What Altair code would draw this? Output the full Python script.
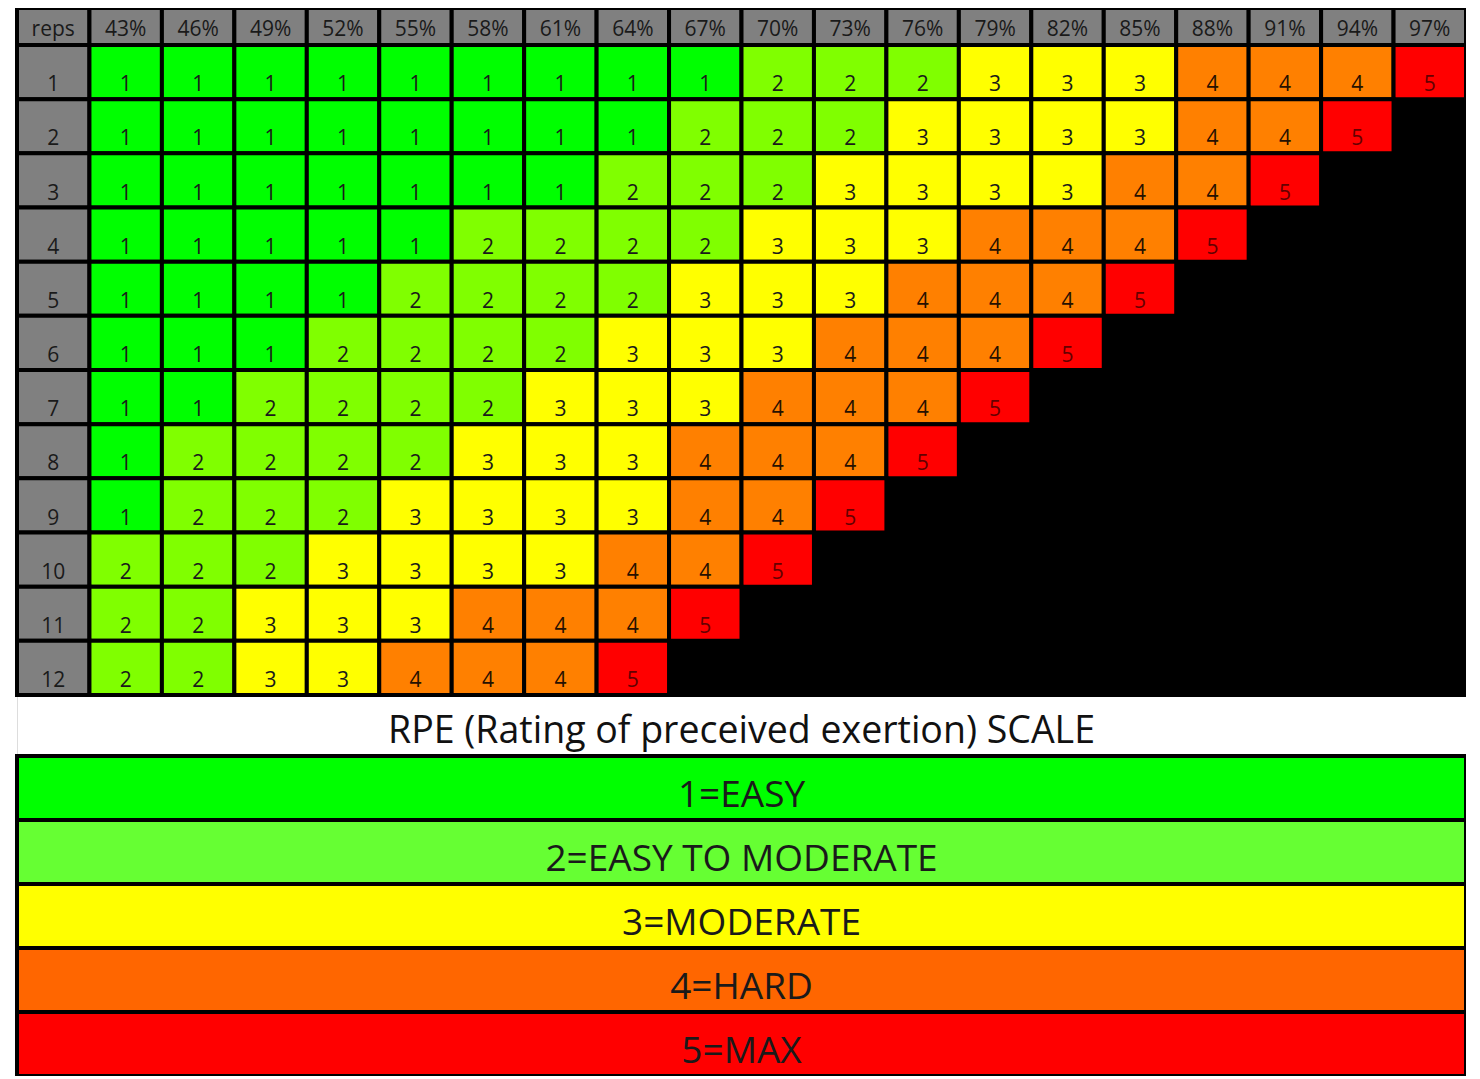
import altair as alt
import pandas as pd

# ---- data -------------------------------------------------------------
percents = ["43%", "46%", "49%", "52%", "55%", "58%", "61%", "64%", "67%", "70%",
            "73%", "76%", "79%", "82%", "85%", "88%", "91%", "94%", "97%"]
reps = [1, 2, 3, 4, 5, 6, 7, 8, 9, 10, 11, 12]
rpe_rows = [
    [1, 1, 1, 1, 1, 1, 1, 1, 1, 2, 2, 2, 3, 3, 3, 4, 4, 4, 5],
    [1, 1, 1, 1, 1, 1, 1, 1, 2, 2, 2, 3, 3, 3, 3, 4, 4, 5],
    [1, 1, 1, 1, 1, 1, 1, 2, 2, 2, 3, 3, 3, 3, 4, 4, 5],
    [1, 1, 1, 1, 1, 2, 2, 2, 2, 3, 3, 3, 4, 4, 4, 5],
    [1, 1, 1, 1, 2, 2, 2, 2, 3, 3, 3, 4, 4, 4, 5],
    [1, 1, 1, 2, 2, 2, 2, 3, 3, 3, 4, 4, 4, 5],
    [1, 1, 2, 2, 2, 2, 3, 3, 3, 4, 4, 4, 5],
    [1, 2, 2, 2, 2, 3, 3, 3, 4, 4, 4, 5],
    [1, 2, 2, 2, 3, 3, 3, 3, 4, 4, 5],
    [2, 2, 2, 3, 3, 3, 3, 4, 4, 5],
    [2, 2, 3, 3, 3, 4, 4, 4, 5],
    [2, 2, 3, 3, 4, 4, 4, 5],
]
corner_label = "reps"
scale_title = "RPE (Rating of preceived exertion) SCALE"
scale_labels = ["1=EASY", "2=EASY TO MODERATE", "3=MODERATE", "4=HARD", "5=MAX"]

# ---- styles -----------------------------------------------------------
cell_colors = {1: "#00FF00", 2: "#80FF00", 3: "#FFFF00", 4: "#FF8000", 5: "#FF0000"}
scale_colors = ["#00FF00", "#66FF33", "#FFFF00", "#FF6600", "#FF0000"]
text_colors = {1: "#1a1a1a", 2: "#1a1a1a", 3: "#1a1a1a", 4: "#261000", 5: "#640000"}
HEADER_GRAY = "#808080"
FONT = "Open Sans"

# layout in reference pixel units (y), column units (x)
TOP, HDR_BOTTOM, ROW_H = 4, 41, 54.17
TABLE_BOTTOM = HDR_BOTTOM + ROW_H * len(reps)
LEG_TOP, LEG_BOTTOM = 752, 1072
LEG_H = (LEG_BOTTOM - LEG_TOP) / len(scale_labels)
NCOL = len(percents) + 1

def row_top(i):
    return HDR_BOTTOM + i * ROW_H

# ---- build tables -----------------------------------------------------
cells, texts = [], []
cells.append(dict(x0=0, x1=1, y0=TOP, y1=HDR_BOTTOM, fill=HEADER_GRAY))
texts.append(dict(x=0.5, y=HDR_BOTTOM - 9, label=corner_label, tc="#1a1a1a"))
for j, p in enumerate(percents):
    cells.append(dict(x0=j + 1, x1=j + 2, y0=TOP, y1=HDR_BOTTOM, fill=HEADER_GRAY))
    texts.append(dict(x=j + 1.5, y=HDR_BOTTOM - 9, label=p, tc="#1a1a1a"))
for i, (r, vals) in enumerate(zip(reps, rpe_rows)):
    y0, y1 = row_top(i), row_top(i + 1)
    cells.append(dict(x0=0, x1=1, y0=y0, y1=y1, fill=HEADER_GRAY))
    texts.append(dict(x=0.5, y=y1 - 8, label=str(r), tc="#1a1a1a"))
    for j, v in enumerate(vals):
        cells.append(dict(x0=j + 1, x1=j + 2, y0=y0, y1=y1, fill=cell_colors[v]))
        texts.append(dict(x=j + 1.5, y=y1 - 8, label=str(v), tc=text_colors[v]))
cells_df = pd.DataFrame(cells)
texts_df = pd.DataFrame(texts)

bg_df = pd.DataFrame([
    dict(x0=0, x1=NCOL, y0=TOP, y1=TABLE_BOTTOM),
    dict(x0=0, x1=NCOL, y0=LEG_TOP, y1=LEG_BOTTOM),
])
leg_df = pd.DataFrame([
    dict(x0=0, x1=NCOL, y0=LEG_TOP + k * LEG_H, y1=LEG_TOP + (k + 1) * LEG_H,
         fill=scale_colors[k], label=scale_labels[k], ty=LEG_TOP + (k + 1) * LEG_H - 13,
         xc=NCOL / 2)
    for k in range(len(scale_labels))
])
title_df = pd.DataFrame([dict(x=NCOL / 2, y=739, label=scale_title)])

# ---- scales -----------------------------------------------------------
xs = alt.Scale(domain=[0, NCOL], nice=False, zero=False)
ys = alt.Scale(domain=[TOP, LEG_BOTTOM], reverse=True, nice=False, zero=False)

bg = alt.Chart(bg_df).mark_rect(color="#000000", stroke="#000000", strokeWidth=4).encode(
    x=alt.X("x0:Q", scale=xs, axis=None), x2="x1:Q",
    y=alt.Y("y0:Q", scale=ys, axis=None), y2="y1:Q",
)

cell_layer = alt.Chart(cells_df).mark_rect(stroke="#000000", strokeWidth=4).encode(
    x=alt.X("x0:Q", scale=xs, axis=None), x2="x1:Q",
    y=alt.Y("y0:Q", scale=ys, axis=None), y2="y1:Q",
    fill=alt.Fill("fill:N", scale=None, legend=None),
)

text_layer = alt.Chart(texts_df).mark_text(
    font=FONT, fontSize=21, baseline="alphabetic", align="center"
).encode(
    x=alt.X("x:Q", scale=xs, axis=None),
    y=alt.Y("y:Q", scale=ys, axis=None),
    text="label:N",
    color=alt.Color("tc:N", scale=None, legend=None),
)

leg_rect = alt.Chart(leg_df).mark_rect(stroke="#000000", strokeWidth=4).encode(
    x=alt.X("x0:Q", scale=xs, axis=None), x2="x1:Q",
    y=alt.Y("y0:Q", scale=ys, axis=None), y2="y1:Q",
    fill=alt.Fill("fill:N", scale=None, legend=None),
)

leg_text = alt.Chart(leg_df).mark_text(
    font=FONT, fontSize=37, baseline="alphabetic", align="center", color="#1a1a1a"
).encode(
    x=alt.X("xc:Q", scale=xs, axis=None),
    y=alt.Y("ty:Q", scale=ys, axis=None),
    text="label:N",
)

title_text = alt.Chart(title_df).mark_text(
    font=FONT, fontSize=37.5, baseline="alphabetic", align="center", color="#111111"
).encode(
    x=alt.X("x:Q", scale=xs, axis=None),
    y=alt.Y("y:Q", scale=ys, axis=None),
    text="label:N",
)

chart = alt.layer(bg, cell_layer, text_layer, leg_rect, leg_text, title_text).properties(
    width=1449, height=LEG_BOTTOM - TOP,
    autosize=alt.AutoSizeParams(type="none"),
    padding={"left": 9, "top": 0, "right": 0, "bottom": 0},
).configure_view(stroke=None).configure(background="#ffffff")

chart.save("out.html", embed_options={"renderer": "svg", "actions": False})
